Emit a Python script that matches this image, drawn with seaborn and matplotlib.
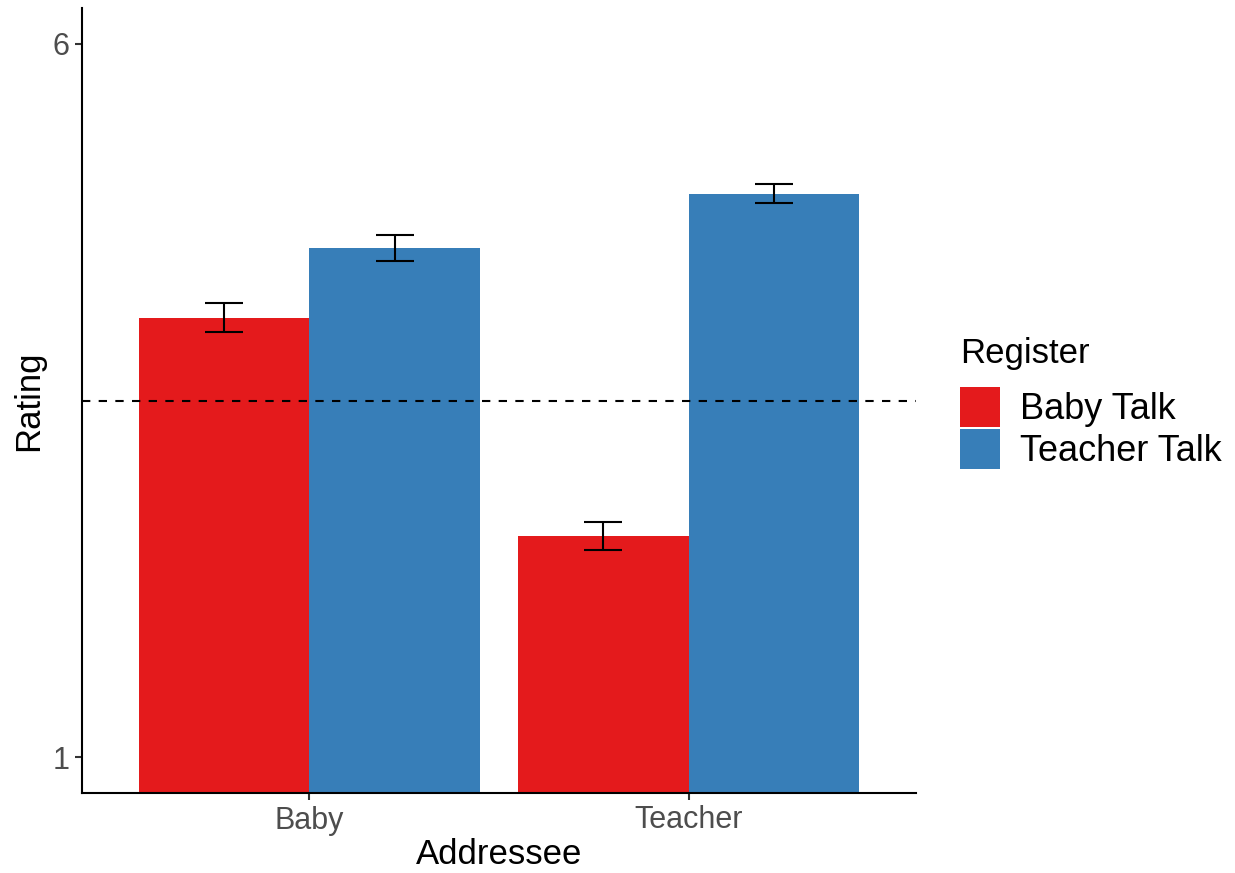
import numpy as np
import pandas as pd
import matplotlib
matplotlib.use("Agg")
import matplotlib.pyplot as plt
import seaborn as sns

# Mean ratings by addressee and register, with standard errors
addressees = ["Baby", "Teacher"]
registers = ["Baby Talk", "Teacher Talk"]
means_baby_talk = [4.08, 2.55]
means_teacher_talk = [4.57, 4.95]
se_baby_talk = [0.10, 0.10]
se_teacher_talk = [0.09, 0.068]
midpoint = 3.5
y_ticks = [1, 6]
colors = ["#E41A1C", "#377EB8"]

df = pd.DataFrame({
    "Addressee": addressees * 2,
    "Register": [registers[0]] * 2 + [registers[1]] * 2,
    "Rating": means_baby_talk + means_teacher_talk,
    "SE": se_baby_talk + se_teacher_talk,
})

sns.set_theme(style="white")
plt.rcParams["font.family"] = ["Liberation Sans", "DejaVu Sans"]
plt.rcParams["text.color"] = "black"

fig = plt.figure(figsize=(12.35, 8.73), dpi=100)
ax = fig.add_axes([82 / 1235, 1 - 793 / 873, (916 - 82) / 1235, (793 - 8) / 873])

sns.barplot(data=df, x="Addressee", y="Rating", hue="Register",
            order=addressees, hue_order=registers, palette=colors,
            width=0.9, saturation=1, errorbar=None, ax=ax, linewidth=0)

# Error bars at the centre of each bar
bars = [p for p in ax.patches if p.get_height() > 0]
for reg_i, reg in enumerate(registers):
    for add_i, add in enumerate(addressees):
        row = df[(df.Register == reg) & (df.Addressee == add)].iloc[0]
        bar = bars[reg_i * len(addressees) + add_i]
        xc = bar.get_x() + bar.get_width() / 2
        ax.errorbar(xc, row.Rating, yerr=row.SE, fmt="none", ecolor="black",
                    elinewidth=1.5, capsize=13.5, capthick=1.5, zorder=5)

ax.axhline(midpoint, color="black", linestyle=(0, (4, 4)), linewidth=1.5, zorder=4)

ax.set_xlim(-0.6, 1.6)
ax.set_ylim(0.75, 6.25)
ax.set_yticks(y_ticks)
ax.set_yticklabels([str(t) for t in y_ticks])

for side in ["top", "right"]:
    ax.spines[side].set_visible(False)
for side in ["left", "bottom"]:
    ax.spines[side].set_color("black")
    ax.spines[side].set_linewidth(1.5)

ax.tick_params(axis="both", which="both", length=5, width=1.5, color="#333333",
               labelsize=22, labelcolor="#4D4D4D", pad=4, left=True, bottom=True)
ax.set_xlabel("Addressee", fontsize=25, color="black", labelpad=2)
ax.set_ylabel("Rating", fontsize=25, color="black", labelpad=5)
ax.grid(False)

leg = ax.legend(title="Register", loc="upper left",
                bbox_to_anchor=(960 / 1235, 1 - 337 / 873),
                bbox_transform=fig.transFigure, frameon=False,
                fontsize=26, title_fontsize=25, handlelength=1.1,
                handleheight=1.33, handletextpad=0.55, labelspacing=0.05,
                borderpad=0, borderaxespad=0, alignment="left")
# wider gap between the title and the keys than between the keys
leg._legend_box.sep = 12
for h in leg.legend_handles:
    h.set_edgecolor("none")
for t in leg.get_texts():
    t.set_color("black")
leg.get_title().set_color("black")

fig.savefig("out.png", dpi=100, facecolor="white")
